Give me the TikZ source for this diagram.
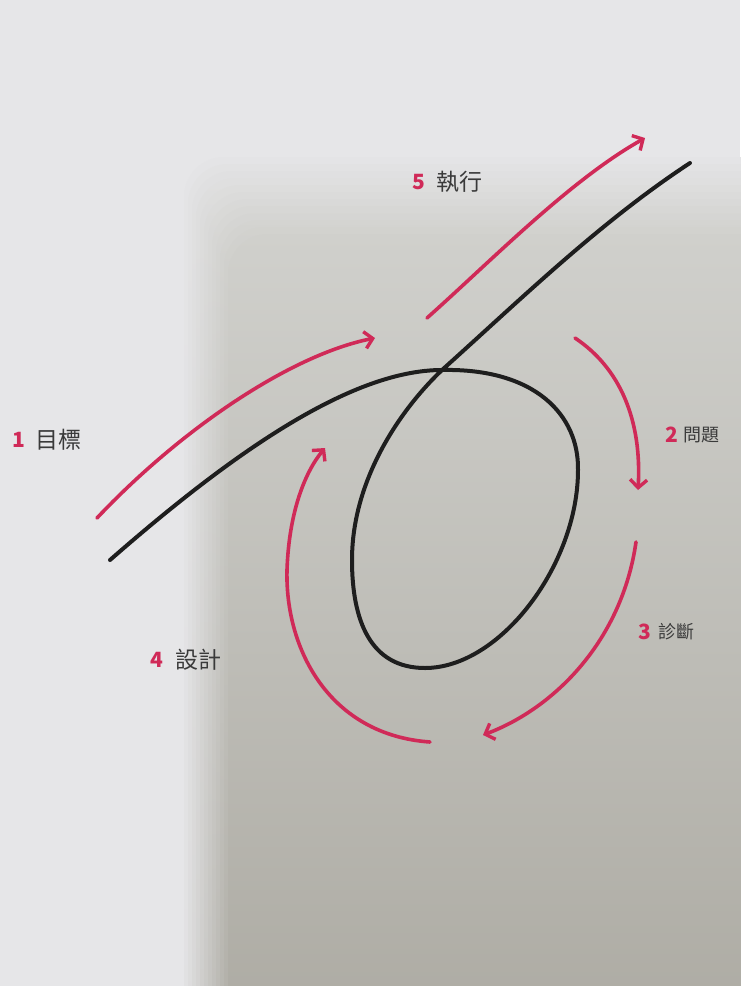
\documentclass[tikz,border=0pt]{standalone}
\usepackage{fontspec}
\newfontfamily\cjk{Noto Sans CJK TC}
\usetikzlibrary{arrows.meta}
\definecolor{pagelight}{HTML}{E6E6E8}
\definecolor{topdark}{HTML}{D0D0CC}
\definecolor{botdark}{HTML}{ACAAA2}
\definecolor{accent}{HTML}{D02A58}
\definecolor{ink}{HTML}{1E1E1E}
\definecolor{txt}{HTML}{3A3A3A}
\tikzset{
  redarrow/.style={draw=accent, line width=3.6pt, line cap=round,
    -{Straight Barb[length=8pt,width=17pt,line width=3.4pt]}},
  loopline/.style={draw=ink, line width=4pt, line cap=round},
  numlabel/.style={text=accent, font=\cjk\bfseries\fontsize{21}{21}\selectfont, inner sep=0pt, anchor=west},
  wordlabel/.style={text=txt, font=\cjk\fontsize{23}{23}\selectfont, inner sep=0pt, anchor=west},
  smallword/.style={text=txt, font=\cjk\fontsize{18}{18}\selectfont, inner sep=0pt, anchor=west}
}
\begin{document}
\begin{tikzpicture}[x=1pt,y=-1pt]
\useasboundingbox (0,0) rectangle (740,986);
% page background
\fill[pagelight] (0,0) rectangle (740,986);
% soft shadow
\foreach \i in {1,...,12}{
  \pgfmathsetmacro{\p}{100-8.33*\i}
  \shade[top color=pagelight!\p!topdark, bottom color=pagelight!\p!botdark, rounded corners=40pt]
    (180+4*\i,150+7*\i) rectangle (800,1050);
}
% black loop line
\coordinate (s) at (110,560);
\coordinate (x) at (442,370);
\coordinate (r) at (578,470);
\coordinate (b) at (425,668);
\coordinate (l) at (352,560);
\coordinate (e) at (690,163);
\draw[loopline] (s) .. controls (230,455) and (350,370) .. (x)
  .. controls (535,368) and (579,415) .. (r)
  .. controls (578,565) and (500,668) .. (b)
  .. controls (370,668) and (352,620) .. (l)
  .. controls (352,480) and (400,410) .. (x)
  .. controls (520,300) and (600,222) .. (e);
% red arrows
\coordinate (a1s) at (97,518); \coordinate (a1e) at (375,338);
\coordinate (a5s) at (427,318); \coordinate (a5e) at (645,138);
\coordinate (a2s) at (575,338); \coordinate (a2e) at (638,490);
\coordinate (a3s) at (636,542); \coordinate (a3e) at (483,735);
\coordinate (a4s) at (430,742); \coordinate (a4m) at (287,570); \coordinate (a4e) at (325,448);
\draw[redarrow] (a1s) .. controls (180,430) and (290,355) .. (a1e);
\draw[redarrow] (a5s) .. controls (490,262) and (570,180) .. (a5e);
\draw[redarrow] (a2s) .. controls (620,368) and (642,420) .. (a2e);
\draw[redarrow] (a3s) .. controls (622,640) and (555,708) .. (a3e);
\draw[redarrow] (a4s) .. controls (330,735) and (285,650) .. (a4m) .. controls (289,512) and (305,472) .. (a4e);
% labels
\node[numlabel] (n1) at (12,440) {1};
\node[wordlabel] (w1) at (35,440) {目標};
\node[numlabel] (n5) at (412,182) {5};
\node[wordlabel] (w5) at (436,182) {執行};
\node[numlabel] (n2) at (665,435) {2};
\node[smallword] (w2) at (683,435) {問題};
\node[numlabel] (n3) at (638,632) {3};
\node[smallword] (w3) at (658,632) {診斷};
\node[numlabel] (n4) at (150,660) {4};
\node[wordlabel] (w4) at (175,660) {設計};
\end{tikzpicture}
\end{document}
